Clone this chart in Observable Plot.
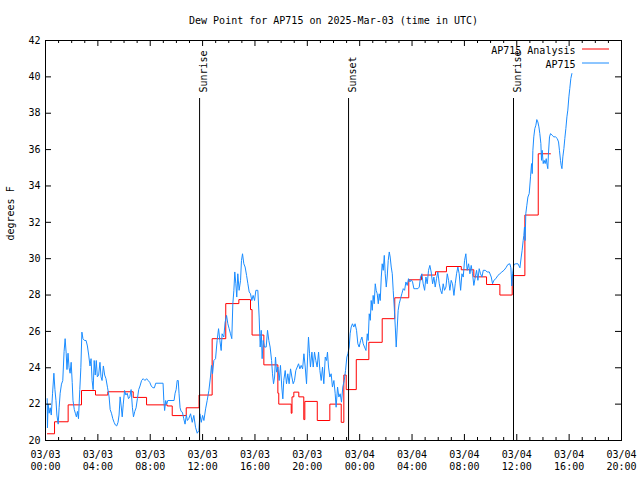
<!DOCTYPE html>
<html><head><meta charset="utf-8">
<script src="https://cdn.jsdelivr.net/npm/d3@7"></script>
<script src="https://cdn.jsdelivr.net/npm/@observablehq/plot@0.6"></script>
<style>body{margin:0;background:#fff} svg{display:block}</style>
</head><body><div id="chart"></div>
<script>
const title = "Dew Point for AP715 on 2025-Mar-03 (time in UTC)";
const yLabel = "degrees F";
const seriesNames = ["AP715 Analysis", "AP715"];
const seriesColors = ["#ff0000", "#1a8cff"];
const startUTC = Date.UTC(2025, 2, 3, 0, 0);

// hours since 2025-03-03 00:00 UTC
const analysisHours = [0.15,0.69,1.73,2.75,3.82,4.76,6.70,7.72,9.30,9.68,10.75,11.73,12.73,13.77,14.77,15.66,15.78,16.68,17.75,17.82,18.77,18.83,18.97,19.35,19.73,19.81,20.76,21.72,22.59,22.79,22.97,23.74,24.70,25.72,26.68,27.75,28.72,29.79,30.63,31.76,32.72,33.69,34.71,35.65,36.62,37.64,38.58];
const analysisDew = [20.37,21.03,21.96,22.75,22.5,22.68,22.37,21.96,21.9,21.37,21.8,22.5,25.6,27.53,27.75,27.2,25.8,24.16,22.6,22.0,21.5,22.4,22.66,22.4,21.15,22.15,21.1,22.0,21.0,23.6,22.8,24.45,25.4,26.7,27.85,28.84,29.1,29.28,29.57,29.39,29.0,28.58,28.0,29.07,32.4,35.77,35.77];

const obsHours = [0.13,0.15,0.20,0.28,0.36,0.44,0.54,0.64,0.72,0.80,0.87,0.97,1.04,1.12,1.22,1.32,1.42,1.50,1.58,1.64,1.72,1.80,1.88,1.96,2.04,2.10,2.20,2.28,2.36,2.44,2.52,2.62,2.70,2.78,2.86,2.98,3.10,3.20,3.30,3.40,3.48,3.56,3.64,3.72,3.80,3.88,3.96,4.06,4.16,4.24,4.32,4.42,4.52,4.62,4.74,4.86,4.94,5.04,5.14,5.24,5.34,5.44,5.54,5.62,5.70,5.78,5.86,5.94,6.04,6.14,6.24,6.34,6.44,6.54,6.64,6.72,6.82,6.92,7.02,7.12,7.22,7.34,7.46,7.60,7.72,7.84,7.96,8.08,8.20,8.32,8.42,8.98,9.04,9.10,9.18,9.26,9.34,9.82,9.90,9.98,10.06,10.14,10.20,10.28,10.36,10.46,10.56,10.66,10.76,10.84,10.94,
11.08,11.21,11.33,11.46,11.59,11.72,11.79,11.90,12.00,12.10,12.23,12.35,12.48,12.60,12.68,12.76,12.86,12.99,13.11,13.22,13.32,13.42,13.49,13.62,13.72,13.83,13.93,14.03,14.13,14.23,14.31,14.39,14.46,14.54,14.61,14.69,14.79,14.90,14.97,15.05,15.15,15.25,15.36,15.46,15.56,15.66,15.76,15.86,15.97,16.07,16.22,16.32,16.40,16.48,16.55,16.63,16.73,16.86,16.96,17.06,17.16,17.27,17.34,17.42,17.50,17.57,17.65,17.75,17.85,17.95,18.05,18.13,18.20,18.31,18.41,18.51,18.61,18.72,18.82,18.92,19.02,19.12,19.23,19.33,19.43,19.53,19.64,19.74,19.84,19.94,20.02,20.09,20.17,20.24,20.35,20.45,20.55,20.65,20.75,20.86,20.96,21.06,21.16,21.26,21.37,21.47,21.54,21.62,21.72,21.82,21.92,22.03,22.13,22.20,22.31,22.41,22.51,22.61,22.71,22.82,22.92,23.02,23.10,23.20,23.27,23.35,23.45,23.55,23.65,23.76,23.86,23.96,
24.07,24.17,24.27,24.37,24.48,24.58,24.65,24.73,24.81,24.88,24.96,25.03,25.11,25.19,25.26,25.34,25.42,25.49,25.57,25.65,25.72,25.80,25.88,25.95,26.03,26.10,26.18,26.26,26.33,26.41,26.49,26.56,26.64,26.72,26.79,26.87,26.94,27.02,27.12,27.22,27.33,27.43,27.53,27.63,27.73,27.84,27.94,28.04,28.14,28.29,28.45,28.55,28.65,28.75,28.85,28.96,29.06,29.16,29.26,29.36,29.46,29.57,29.67,29.77,29.87,29.97,30.08,30.18,30.28,30.38,30.48,30.59,30.69,30.79,30.89,30.99,31.09,31.20,31.30,31.40,31.50,31.60,31.71,31.81,31.91,32.01,32.11,32.21,32.32,32.42,32.52,32.62,32.72,32.83,32.93,33.03,33.13,33.23,33.34,33.44,33.59,33.74,33.90,34.05,34.15,34.25,34.40,34.56,34.71,34.86,35.02,35.17,35.32,35.47,35.55,35.62,35.68,35.78,35.93,36.09,36.24,
36.34,36.41,36.49,36.54,36.59,36.64,36.69,36.77,36.85,36.95,37.05,37.13,37.18,37.23,37.30,37.38,37.46,37.53,37.61,37.69,37.76,37.84,37.89,37.94,38.02,38.09,38.17,38.25,38.32,38.37,38.42,38.50,38.58,38.70,38.83,38.96,39.09,39.19,39.26,39.34,39.39,39.45,39.52,39.60,39.67,39.75,39.83,39.90,39.98,40.05,40.13,40.21];
const obsDew = [22.3,20.7,22.0,21.5,21.8,21.4,22.6,23.7,22.8,22.2,21.4,20.9,21.8,22.6,23.1,23.3,24.9,25.6,24.8,23.9,24.8,24.0,23.7,24.3,23.2,22.2,21.7,21.5,21.3,21.6,21.2,22.8,24.0,25.96,25.6,25.5,25.5,25.2,24.7,24.1,24.5,23.3,22.8,24.4,23.6,24.4,23.5,23.6,24.3,23.5,23.3,24.1,23.6,23.4,22.9,22.4,21.7,21.5,21.2,21.0,20.85,20.8,21.0,21.4,22.4,21.9,21.3,22.0,22.75,22.5,22.6,22.3,22.4,22.8,21.8,21.3,21.6,21.8,22.3,22.8,23.0,23.3,23.4,23.3,23.4,23.3,23.2,23.0,22.9,22.9,23.15,23.15,22.2,21.65,22.2,22.0,22.2,22.2,22.6,22.8,23.3,23.3,22.6,21.8,21.6,21.55,21.2,20.9,21.4,21.1,21.2,
21.47,21.0,21.38,20.73,20.4,20.55,21.47,21.0,21.38,21.1,21.74,22.2,22.75,23.49,24.13,23.67,24.4,24.5,25.5,26.15,25.5,24.95,25.87,25.69,26.5,26.88,26.42,26.15,25.87,25.6,27.52,28.26,29.27,28.62,27.89,29.17,28.26,28.81,29.9,30.27,29.72,29.54,29.08,28.62,28.17,28.07,27.7,27.98,27.7,28.26,28.26,26.79,25.14,26.06,24.5,25.5,25.14,25.14,26.06,25.5,25.14,24.4,23.67,23.12,23.49,24.59,23.76,24.04,23.3,24.13,22.94,22.29,23.3,23.85,23.12,23.67,23.12,23.94,23.49,23.12,23.3,23.85,24.04,24.22,23.94,24.13,23.94,24.77,24.04,23.12,24.59,25.69,24.77,24.04,24.86,24.04,24.86,24.4,24.04,24.86,23.85,23.3,24.04,23.12,24.59,24.4,24.86,24.04,23.49,23.67,22.94,23.3,22.57,21.83,22.94,22.39,22.57,22.11,22.94,23.3,23.85,24.59,24.77,25.14,25.87,26.24,26.42,26.24,26.42,26.06,25.32,25.14,
25.5,25.69,25.32,25.14,24.95,25.87,25.5,26.97,26.61,27.7,27.16,27.98,27.52,28.62,28.26,28.07,27.52,28.07,27.7,28.99,29.72,29.36,30.18,29.17,28.44,28.99,29.9,30.37,30.09,29.54,29.17,28.26,27.34,26.24,25.14,26.24,27.16,27.52,27.8,28.07,28.35,28.26,28.72,28.53,28.9,28.72,28.84,28.72,28.35,28.35,28.35,28.44,28.99,29.17,28.62,28.26,28.99,28.62,29.36,29.63,29.27,28.62,28.99,28.44,28.9,29.27,28.62,28.26,28.07,28.62,28.26,28.44,29.17,28.81,28.26,28.81,28.62,27.98,28.62,29.17,29.54,29.17,28.26,29.17,28.99,29.9,30.27,29.36,29.72,29.17,29.63,29.17,28.53,28.99,29.36,28.81,29.45,29.17,28.99,29.36,29.36,29.27,29.27,28.99,28.62,28.81,28.9,29.08,29.17,29.27,29.36,29.5,29.68,29.72,29.5,28.5,29.17,29.68,29.72,29.72,29.5,
30.09,30.46,31.0,31.28,31.74,31.0,32.48,32.94,33.39,33.58,34.5,35.23,34.68,35.96,36.7,37.16,37.34,37.65,37.52,37.25,36.88,36.33,35.41,35.96,35.23,35.41,35.23,35.5,35.14,34.95,35.78,36.7,36.88,36.79,36.7,36.7,36.61,36.42,35.96,35.41,35.14,34.95,35.6,36.06,36.61,37.16,37.8,38.17,38.9,39.36,39.91,40.18];

const sunHours = [11.77, 23.15, 35.75];
const sunLabels = ["Sunrise", "Sunset", "Sunrise"];
const xMajorHours = [0, 4, 8, 12, 16, 20, 24, 28, 32, 36, 40, 44];
const yTicks = [20, 22, 24, 26, 28, 30, 32, 34, 36, 38, 40, 42];

const toDate = h => new Date(startUTC + h * 3600000);
const analysis = analysisHours.map((h, i) => ({t: toDate(h), v: analysisDew[i]}));
const obs = obsHours.map((h, i) => ({t: toDate(h), v: obsDew[i]}));
const sun = sunHours.map((h, i) => ({t: toDate(h), label: sunLabels[i]}));
const majors = xMajorHours.map(toDate);
const minors = d3.range(0, 45).filter(h => h % 4 !== 0).map(toDate);
const fmt = d3.utcFormat("%m/%d\n%H:%M");

const plot = Plot.plot({
  width: 640, height: 480,
  marginLeft: 45, marginRight: 19, marginTop: 40, marginBottom: 40,
  x: {type: "utc", domain: [toDate(0), toDate(44)], axis: null},
  y: {domain: [20, 42], axis: null},
  style: {fontFamily: "'DejaVu Sans Mono', monospace", fontSize: "10px", background: "white", color: "black"},
  marks: [
    Plot.line(analysis, {x: "t", y: "v", curve: "step-after", stroke: seriesColors[0], strokeWidth: 1}),
    Plot.line(obs, {x: "t", y: "v", stroke: seriesColors[1], strokeWidth: 1}),
    Plot.ruleX(sun, {x: "t", stroke: "black", insetTop: 58}),
    Plot.text(sun, {x: "t", text: "label", frameAnchor: "top", dy: 52, rotate: -90, textAnchor: "start"}),
    Plot.frame({stroke: "black"}),
    Plot.ruleX(majors, {x: d => d, insetTop: 394}),
    Plot.ruleX(majors, {x: d => d, insetBottom: 394}),
    Plot.ruleX(minors, {x: d => d, insetTop: 397}),
    Plot.ruleX(minors, {x: d => d, insetBottom: 397}),
    Plot.ruleY(yTicks, {y: d => d, insetRight: 570}),
    Plot.ruleY(yTicks, {y: d => d, insetLeft: 570}),
    Plot.text(yTicks, {y: d => d, text: d => String(d), frameAnchor: "left", dx: -5, textAnchor: "end"}),
    Plot.text(majors, {x: d => d, text: d => fmt(d), frameAnchor: "bottom", dy: 29, lineHeight: 1.2}),
    Plot.text([title], {frameAnchor: "top", dy: -24}),
    Plot.text([yLabel], {frameAnchor: "left", dx: -35, rotate: -90}),
    Plot.text([seriesNames[0]], {frameAnchor: "top-right", dx: -46, dy: 6, textAnchor: "end"}),
    Plot.text([seriesNames[1]], {frameAnchor: "top-right", dx: -46, dy: 20, textAnchor: "end"})
  ]
});
const svg = d3.select(plot);
[[49, seriesColors[0]], [63, seriesColors[1]]].forEach(([y, c]) => {
  svg.append("line").attr("x1", 582).attr("x2", 609).attr("y1", y).attr("y2", y)
     .attr("stroke", c).attr("stroke-width", 1);
});
document.getElementById("chart").appendChild(plot);
</script>
</body></html>
